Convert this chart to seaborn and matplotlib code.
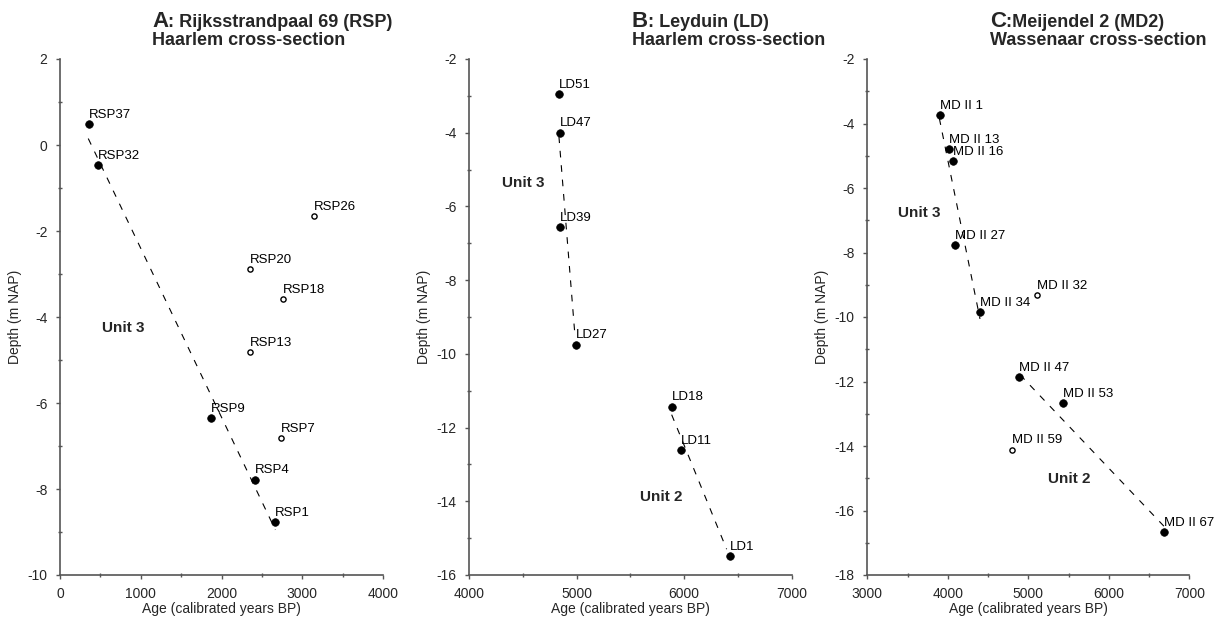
import matplotlib
matplotlib.use("Agg")
import matplotlib.pyplot as plt
from matplotlib.ticker import MultipleLocator
import seaborn as sns
import pandas as pd

# ---------------- data ----------------
# Panel A: Rijksstrandpaal 69
a_fill_labels = ["RSP37", "RSP32", "RSP9", "RSP4", "RSP1"]
a_fill_age = [359, 467, 1870, 2411, 2667]
a_fill_depth = [0.48, -0.46, -6.35, -7.78, -8.77]
a_open_labels = ["RSP26", "RSP20", "RSP18", "RSP13", "RSP7"]
a_open_age = [3145, 2353, 2758, 2353, 2737]
a_open_depth = [-1.65, -2.89, -3.58, -4.81, -6.82]
a_trend_age = [[350, 2667]]
a_trend_depth = [[0.15, -8.95]]

# Panel B: Leyduin
b_fill_labels = ["LD51", "LD47", "LD39", "LD27", "LD18", "LD11", "LD1"]
b_fill_age = [4834, 4846, 4843, 4994, 5890, 5970, 6426]
b_fill_depth = [-2.96, -4.0, -6.56, -9.75, -11.43, -12.61, -15.49]
b_open_labels = []
b_open_age = []
b_open_depth = []
b_trend_age = [[4836, 4985], [5884, 6395]]
b_trend_depth = [[-4.1, -9.5], [-11.65, -15.3]]

# Panel C: Meijendel 2
c_fill_labels = ["MD II 1", "MD II 13", "MD II 16", "MD II 27", "MD II 34",
                 "MD II 47", "MD II 53", "MD II 67"]
c_fill_age = [3903, 4015, 4068, 4093, 4404, 4889, 5431, 6686]
c_fill_depth = [-3.74, -4.79, -5.17, -7.77, -9.86, -11.86, -12.67, -16.68]
c_open_labels = ["MD II 32", "MD II 59"]
c_open_age = [5104, 4798]
c_open_depth = [-9.32, -14.11]
c_trend_age = [[3895, 4400], [4897, 6686]]
c_trend_depth = [[-3.84, -10.06], [-11.79, -16.49]]

# unit annotations (text, age, depth)
a_units = [("Unit 3", 516, -4.26)]
b_units = [("Unit 3", 4304, -5.37), ("Unit 2", 5589, -13.88)]
c_units = [("Unit 3", 3377, -6.78), ("Unit 2", 5241, -15.02)]

titles_letter = ["A", "B", "C"]
titles_rest = [": Rijksstrandpaal 69 (RSP)", ": Leyduin (LD)", ":Meijendel 2 (MD2)"]
titles_line2 = ["Haarlem cross-section", "Haarlem cross-section", "Wassenaar cross-section"]

xlims = [(0, 4000), (4000, 7000), (3000, 7000)]
ylims = [(-10, 2), (-16, -2), (-18, -2)]

xlabel = "Age (calibrated years BP)"
ylabel = "Depth (m NAP)"

# ---------------- style ----------------
sns.set_style("white")
plt.rcParams["font.family"] = ["Liberation Sans", "DejaVu Sans"]

W, H = 1222, 617
fig = plt.figure(figsize=(W / 100, H / 100), dpi=100)

ax_left_px = [60, 469, 867.3]
ax_w_px = [323, 322.7, 322]
ax_top_px, ax_bot_px = 59, 575

panels = [
    (a_fill_labels, a_fill_age, a_fill_depth, a_open_labels, a_open_age, a_open_depth,
     a_trend_age, a_trend_depth, a_units),
    (b_fill_labels, b_fill_age, b_fill_depth, b_open_labels, b_open_age, b_open_depth,
     b_trend_age, b_trend_depth, b_units),
    (c_fill_labels, c_fill_age, c_fill_depth, c_open_labels, c_open_age, c_open_depth,
     c_trend_age, c_trend_depth, c_units),
]

spine_col = "#555555"
axes = []
for i, p in enumerate(panels):
    fl, fa, fd, ol, oa, od, ta, td, units = p
    ax = fig.add_axes([ax_left_px[i] / W, 1 - ax_bot_px / H,
                       ax_w_px[i] / W, (ax_bot_px - ax_top_px) / H])
    axes.append(ax)
    # trend lines
    for k, (tx, ty) in enumerate(zip(ta, td)):
        df_t = pd.DataFrame({"age": tx, "depth": ty})
        sns.lineplot(data=df_t, x="age", y="depth", ax=ax, color="black",
                     lw=0.8, sort=False, estimator=None, dashes=False,
                     linestyle=(0, (6, 7)), zorder=2)
    # filled points
    df_f = pd.DataFrame({"age": fa, "depth": fd})
    sns.scatterplot(data=df_f, x="age", y="depth", ax=ax, color="black", s=30,
                    edgecolor="black", linewidth=0.5, zorder=3)
    if len(oa):
        df_o = pd.DataFrame({"age": oa, "depth": od})
        sns.scatterplot(data=df_o, x="age", y="depth", ax=ax, color="white", s=14,
                        edgecolor="black", linewidth=1.0, zorder=3)
    for lab, x, y in list(zip(fl, fa, fd)) + list(zip(ol, oa, od)):
        ax.annotate(lab, (x, y), xytext=(0, 4.5), textcoords="offset points",
                    ha="left", va="baseline", fontsize=9.5, color="black", zorder=4)
    for txt, x, y in units:
        ax.text(x, y, txt, ha="left", va="center", fontsize=11, fontweight="bold")

    ax.set_xlim(*xlims[i])
    ax.set_ylim(*ylims[i])
    ax.xaxis.set_major_locator(MultipleLocator(1000))
    ax.xaxis.set_minor_locator(MultipleLocator(500))
    ax.yaxis.set_major_locator(MultipleLocator(2))
    ax.yaxis.set_minor_locator(MultipleLocator(1))
    ax.xaxis.set_major_formatter(matplotlib.ticker.FuncFormatter(lambda v, p: f"{v:.0f}"))
    ax.yaxis.set_major_formatter(matplotlib.ticker.FuncFormatter(lambda v, p: f"{v:.0f}"))
    for s in ["top", "right"]:
        ax.spines[s].set_visible(False)
    for s in ["left", "bottom"]:
        ax.spines[s].set_color(spine_col)
        ax.spines[s].set_linewidth(1.2)
    ax.tick_params(which="major", direction="out", length=3, width=1, color=spine_col,
                   labelsize=10, pad=6, bottom=True, left=True)
    ax.tick_params(which="minor", direction="inout", length=3, width=1, color=spine_col,
                   bottom=True, left=True)
    ax.set_xlabel(xlabel, fontsize=10, labelpad=0)
    ax.set_ylabel(ylabel, fontsize=10, labelpad=4)
    ax.set_facecolor("white")

# titles
title_x_px = [152, 631.7, 990]
fig.canvas.draw()
r = fig.canvas.get_renderer()
for i in range(3):
    t1 = fig.text(title_x_px[i] / W, 1 - 27 / H, titles_letter[i], fontsize=16,
                  fontweight="bold", va="baseline", ha="left")
    ext = t1.get_window_extent(renderer=r)
    fig.text(ext.x1 / W, 1 - 27 / H, titles_rest[i], fontsize=13,
             fontweight="bold", va="baseline", ha="left")
    fig.text(title_x_px[i] / W, 1 - 45 / H, titles_line2[i], fontsize=13,
             fontweight="bold", va="baseline", ha="left")

fig.savefig("out.png", dpi=100, facecolor="white")
